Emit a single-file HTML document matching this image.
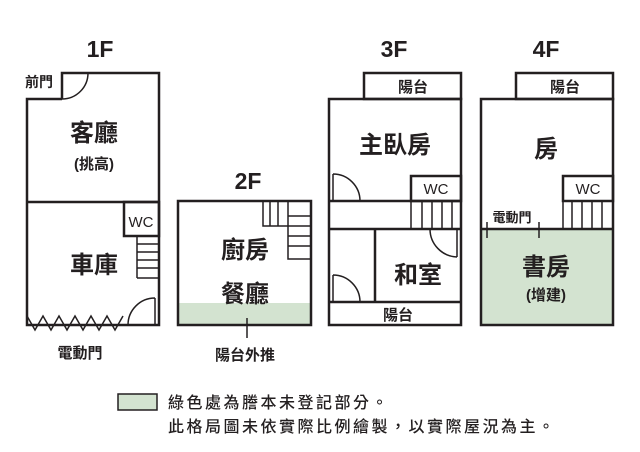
<!DOCTYPE html>
<html><head><meta charset="utf-8"><style>
html,body{margin:0;padding:0;background:#fff;}
svg{display:block}
text{font-family:"Liberation Sans","Noto Sans CJK TC",sans-serif;fill:#231f20;text-anchor:middle;font-weight:bold;}
</style></head><body>
<svg width="640" height="452" viewBox="0 0 640 452" xmlns="http://www.w3.org/2000/svg">
<g fill="none" stroke="#231f20" stroke-width="2.5">
<!-- 1F -->
<path d="M62,99 V73 H159 V325 H27 V99 H62"/>
<path d="M62,99 A26,26 0 0 0 88,73" stroke-width="1.5"/>
<line x1="27" y1="202" x2="159" y2="202"/>
<rect x="124" y="202" width="35" height="34"/>
<path d="M137,236 V278 M137,244 H159 M137,252 H159 M137,260 H159 M137,268 H159 M137,278 H159" stroke-width="1.5"/>
<path d="M155,298 V325 M128,325 A27,27 0 0 1 155,298" stroke-width="1.5"/>
<path d="M27,316 L35,330 L43,316 L51,330 L59,316 L67,330 L75,316 L83,330 L91,316 L99,330 L107,316 L115,330 L123,316" stroke-width="1.5"/>
<!-- 2F -->
<rect x="178" y="303" width="133" height="22" fill="#d3e3d0" stroke="none"/>
<rect x="178" y="201" width="133" height="124"/>
<path d="M263,201 V226 H288 M270,201 V226 M278,201 V226 M288,201 V259 H311 M288,216 H311 M288,226 H311 M288,236 H311 M288,246 H311" stroke-width="1.5"/>
<line x1="247" y1="318" x2="247" y2="338" stroke-width="1.5"/>
<!-- 3F -->
<rect x="364" y="73" width="97" height="26"/>
<rect x="329" y="99" width="132" height="226"/>
<rect x="411" y="176" width="50" height="25"/>
<path d="M329,201 H461 M329,229 H461"/>
<path d="M411,201 V229 M422,201 V229 M432,201 V229 M442,201 V229 M452,201 V229" stroke-width="1.5"/>
<path d="M375,229 V302 M329,302 H461"/>
<path d="M333,174 V201 M333,174 A27,27 0 0 1 360,201" stroke-width="1.5"/>
<path d="M333,275 V302 M333,275 A27,27 0 0 1 360,302" stroke-width="1.5"/>
<path d="M457,229 V257 M430,229 A28,28 0 0 0 457,257" stroke-width="1.5"/>
<!-- 4F -->
<rect x="481" y="229" width="132" height="96" fill="#d3e3d0" stroke="none"/>
<rect x="516" y="73" width="97" height="26"/>
<rect x="481" y="99" width="132" height="226"/>
<rect x="563" y="176" width="50" height="25"/>
<path d="M481,229 H613"/>
<path d="M563,201 V229 M572,201 V229 M582,201 V229 M592,201 V229 M602,201 V229" stroke-width="1.5"/>
<path d="M487,222 V238 M539,222 V238" stroke-width="1.5"/>
<!-- legend -->
<rect x="118" y="394" width="39" height="16" fill="#d3e3d0" stroke-width="1.5"/>
</g>
<g font-size="23" style="font-weight:500">
<text x="100" y="57">1F</text>
<text x="248" y="189">2F</text>
<text x="394" y="57">3F</text>
<text x="546" y="57">4F</text>
</g>
<g font-size="24" style="font-weight:500">
<text x="94" y="141">客廳</text>
<text x="94" y="273">車庫</text>
<text x="245" y="258">廚房</text>
<text x="245" y="302">餐廳</text>
<text x="395" y="153">主臥房</text>
<text x="546" y="157">房</text>
<text x="418" y="283">和室</text>
<text x="546" y="275">書房</text>
</g>
<g font-size="15">
<text x="94" y="169">(挑高)</text>
<text x="546" y="300">(增建)</text>
<text x="141" y="227" style="font-weight:500">WC</text>
<text x="436" y="194" style="font-weight:500">WC</text>
<text x="588" y="194" style="font-weight:500">WC</text>
<text x="39" y="87" font-size="14">前門</text>
<text x="80" y="358">電動門</text>
<text x="245" y="360">陽台外推</text>
<text x="413" y="92">陽台</text>
<text x="565" y="92">陽台</text>
<text x="398" y="320">陽台</text>
<text x="512" y="222" font-size="13">電動門</text>
</g>
<g font-size="16" style="letter-spacing:2.5px">
<text x="168" y="408" style="text-anchor:start;font-weight:500">綠色處為謄本未登記部分。</text>
<text x="168" y="432" style="text-anchor:start;font-weight:500">此格局圖未依實際比例繪製，以實際屋況為主。</text>
</g>
</svg>
</body></html>
